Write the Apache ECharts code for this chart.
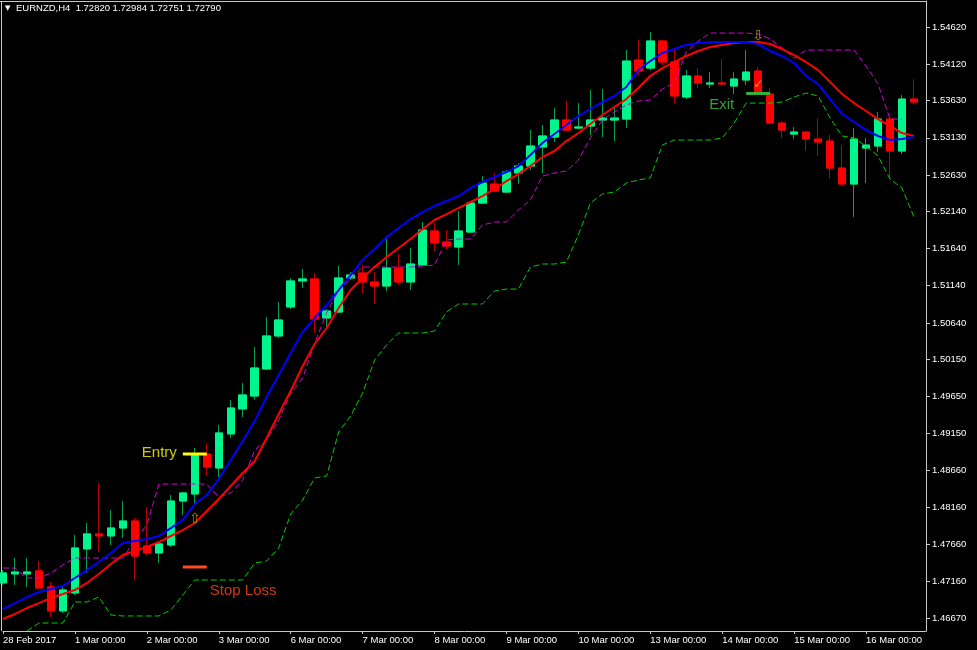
<!DOCTYPE html>
<html><head><meta charset="utf-8">
<script src="https://cdn.jsdelivr.net/npm/echarts@6/dist/echarts.min.js"></script>
<style>html,body{margin:0;padding:0;background:#000;}#c{width:977px;height:650px;}</style>
</head><body><div id="c"></div>
<script>
// ---- data ----
const days = ['28 Feb','1 Mar','2 Mar','3 Mar','6 Mar','7 Mar','8 Mar','9 Mar','10 Mar','13 Mar','14 Mar','15 Mar','16 Mar'];
const hours = ['00:00','04:00','08:00','12:00','16:00','20:00'];
const firstLabel = '28 Feb 2017';
const headerText = 'EURNZD,H4  1.72820 1.72984 1.72751 1.72790';

const opens = [
1.47142,1.47263,1.47263,1.47303,1.47088,1.46765,1.47007,1.47599,1.47801,1.47774,
1.47881,1.47975,1.47639,1.47545,1.47652,1.48244,1.48338,1.48876,1.48688,1.49146,
1.49482,1.49656,1.50020,1.50464,1.50854,1.51204,1.51231,1.50706,1.50786,1.51244,
1.51311,1.51190,1.51136,1.51378,1.51190,1.51419,1.51876,1.51728,1.51661,1.51862,
1.52252,1.52508,1.52400,1.52656,1.52750,1.53006,1.53140,1.53369,1.53261,1.53288,
1.53369,1.53369,1.53382,1.54176,1.54068,1.54432,1.54149,1.53678,1.53961,1.53853,
1.53867,1.53826,1.53907,1.54028,1.53718,1.53328,1.53180,1.53207,1.53113,1.53086,
1.52723,1.52508,1.52992,1.53019,1.53382,1.52952,1.53651];
const closes = [
1.47276,1.47289,1.47289,1.47074,1.46765,1.47047,1.47612,1.47801,1.47774,1.47881,
1.47975,1.47504,1.47545,1.47666,1.48244,1.48352,1.48876,1.48702,1.49159,1.49495,
1.49670,1.50033,1.50464,1.50679,1.51204,1.51231,1.50692,1.50800,1.51244,1.51284,
1.51190,1.51136,1.51378,1.51190,1.51432,1.51889,1.51714,1.51674,1.51876,1.52252,
1.52521,1.52414,1.52669,1.52750,1.53019,1.53154,1.53369,1.53234,1.53275,1.53369,
1.53396,1.53396,1.54162,1.54028,1.54432,1.54149,1.53692,1.53961,1.53867,1.53867,
1.53853,1.53920,1.54014,1.53732,1.53328,1.53234,1.53207,1.53113,1.53073,1.52723,
1.52508,1.53113,1.53032,1.53382,1.52952,1.53651,1.53611];
const lows = [
1.47115,1.47115,1.47088,1.47061,1.46684,1.46738,1.46980,1.47276,1.47558,1.47652,
1.47747,1.47182,1.47518,1.47410,1.47626,1.48056,1.48217,1.48580,1.48567,1.49092,
1.49374,1.49603,1.50006,1.50437,1.50827,1.51109,1.50504,1.50585,1.50773,1.51217,
1.51042,1.50894,1.51069,1.51150,1.51082,1.51405,1.51607,1.51620,1.51419,1.51849,
1.52239,1.52400,1.52387,1.52508,1.52696,1.52656,1.53073,1.53221,1.53248,1.53167,
1.53140,1.53086,1.53261,1.53974,1.54041,1.54109,1.53597,1.53651,1.53799,1.53799,
1.53840,1.53718,1.53840,1.53718,1.53315,1.53127,1.53113,1.52952,1.52885,1.52575,
1.52494,1.52064,1.52521,1.52938,1.52575,1.52911,1.53584];
const highs = [
1.47316,1.47478,1.47478,1.47437,1.47155,1.47088,1.47787,1.47948,1.48486,1.48123,
1.48244,1.48016,1.48164,1.47680,1.48325,1.48365,1.48957,1.49011,1.49266,1.49603,
1.49831,1.50315,1.50719,1.50921,1.51244,1.51365,1.51311,1.50827,1.51405,1.51324,
1.51419,1.51324,1.51768,1.51566,1.51647,1.51997,1.51984,1.51889,1.52145,1.52266,
1.52615,1.52656,1.52696,1.52790,1.53234,1.53302,1.53530,1.53624,1.53597,1.53772,
1.53786,1.53530,1.54310,1.54445,1.54553,1.54445,1.54337,1.54041,1.54068,1.54014,
1.54189,1.54014,1.54310,1.54081,1.53799,1.53355,1.53274,1.53221,1.53396,1.53167,
1.53032,1.53261,1.53127,1.53476,1.53396,1.53705,1.53920];

const maFast = [
1.46791,1.46871,1.46952,1.47019,1.47060,1.47100,1.47208,1.47315,1.47423,1.47544,
1.47679,1.47706,1.47732,1.47773,1.47880,1.47988,1.48203,1.48324,1.48540,1.48795,
1.49051,1.49320,1.49643,1.49939,1.50234,1.50517,1.50705,1.50880,1.51082,1.51284,
1.51486,1.51634,1.51795,1.51916,1.52037,1.52131,1.52212,1.52279,1.52346,1.52454,
1.52535,1.52602,1.52669,1.52750,1.52898,1.53059,1.53181,1.53302,1.53423,1.53517,
1.53611,1.53692,1.53813,1.54041,1.54162,1.54270,1.54324,1.54378,1.54405,1.54418,
1.54418,1.54418,1.54418,1.54391,1.54297,1.54230,1.54136,1.53961,1.53853,1.53651,
1.53450,1.53342,1.53234,1.53154,1.53100,1.53113,1.53140];
const maSlow = [
1.46656,1.46724,1.46804,1.46871,1.46939,1.46993,1.47046,1.47141,1.47262,1.47396,
1.47517,1.47571,1.47625,1.47692,1.47773,1.47853,1.47948,1.48109,1.48271,1.48445,
1.48620,1.48782,1.49091,1.49414,1.49723,1.50060,1.50356,1.50571,1.50840,1.51082,
1.51243,1.51391,1.51526,1.51647,1.51768,1.51903,1.52024,1.52104,1.52185,1.52266,
1.52346,1.52441,1.52548,1.52642,1.52750,1.52871,1.52952,1.53086,1.53194,1.53315,
1.53436,1.53544,1.53651,1.53799,1.53961,1.54068,1.54149,1.54230,1.54297,1.54351,
1.54378,1.54405,1.54418,1.54418,1.54391,1.54324,1.54243,1.54149,1.54041,1.53880,
1.53719,1.53597,1.53490,1.53382,1.53288,1.53194,1.53154];
const upperStop = [
1.47342,1.47342,1.47208,1.47208,1.47275,1.47383,1.47477,1.47477,1.47477,1.47477,
1.47477,1.47719,1.47921,1.48472,1.48472,1.48472,1.48472,1.48472,1.48297,1.48351,
1.48526,1.48930,1.49064,1.49333,1.49696,1.49898,1.50369,1.50773,1.51082,1.51230,
1.51391,1.51391,1.51391,1.51391,1.51391,1.51405,1.51418,1.51755,1.51768,1.51768,
1.51956,1.51997,1.51997,1.52158,1.52293,1.52615,1.52656,1.52683,1.52831,1.53127,
1.53369,1.53476,1.53571,1.53624,1.53638,1.53786,1.53867,1.54284,1.54432,1.54539,
1.54539,1.54539,1.54539,1.54526,1.54458,1.54337,1.54203,1.54310,1.54310,1.54310,
1.54310,1.54310,1.54095,1.53853,1.53382,1.53382,null];
const lowerStop = [
null,null,1.46495,1.46602,1.46602,1.46602,1.46885,1.46885,1.46952,1.46710,
1.46697,1.46697,1.46697,1.46697,1.46777,1.46979,1.47181,1.47181,1.47181,1.47181,
1.47181,1.47410,1.47436,1.47611,1.48069,1.48257,1.48553,1.48580,1.49172,1.49387,
1.49696,1.50140,1.50342,1.50504,1.50504,1.50504,1.50530,1.50786,1.50894,1.50894,
1.50894,1.51068,1.51095,1.51095,1.51391,1.51432,1.51432,1.51459,1.51822,1.52252,
1.52373,1.52400,1.52521,1.52562,1.52589,1.53032,1.53100,1.53100,1.53100,1.53100,
1.53127,1.53328,1.53597,1.53597,1.53597,1.53611,1.53678,1.53732,1.53692,1.53396,
1.53154,1.53127,1.53019,1.52885,1.52575,1.52454,1.52064];

const yTicks = [1.46670,1.47160,1.47660,1.48160,1.48660,1.49150,1.49650,1.50150,1.50640,1.51140,1.51640,1.52140,1.52630,1.53130,1.53630,1.54120,1.54620];
const yMin = 1.46495, yMax = 1.54970;

const entry = {from: 15, to: 17, price: 1.48876, labelPrice: 1.48890};
const stop = {from: 15, to: 17, price: 1.47356, labelPrice: 1.47033};
const exit = {from: 62, to: 64, price: 1.53725, labelPrice: 1.53571, labelAt: 61};
const upArrow = {at: 16, price: 1.48001};
const downArrow = {at: 63, price: 1.54499};
const checkMark = {at: 63, price: 1.53840};

// ---- build ----
const categories = [];
days.forEach(d => hours.forEach(h => categories.push(d + ' ' + h)));
const ohlc = opens.map((o, i) => [o, closes[i], lows[i], highs[i]]);
const bodies = opens.map((o, i) => [o, closes[i], Math.min(o, closes[i]), Math.max(o, closes[i])]);
function segment(s) { return categories.map((c, i) => (i >= s.from && i <= s.to) ? s.price : null); }
const showAt = (idx, val) => val.endsWith('00:00');
const FONT = 'Liberation Sans';

const chart = echarts.init(document.getElementById('c'), null, {renderer: 'canvas'});
chart.setOption({
  backgroundColor: '#000000',
  animation: false,
  grid: {left: 3, right: 51, top: 1, bottom: 19, containLabel: false},
  xAxis: {
    type: 'category', data: categories, boundaryGap: false,
    axisLine: {lineStyle: {color: '#c8c8c8', width: 1}},
    axisTick: {show: true, interval: showAt, length: 3, lineStyle: {color: '#c8c8c8'}},
    axisLabel: {interval: showAt, align: 'left', color: '#ffffff', fontFamily: FONT, fontSize: 9.5, margin: 4,
      formatter: (v, i) => i === 0 ? firstLabel : v},
    splitLine: {show: false}
  },
  yAxis: {
    type: 'value', position: 'right', min: yMin, max: yMax, scale: true,
    axisLine: {show: true, lineStyle: {color: '#c8c8c8', width: 1}},
    axisTick: {show: true, length: 4, customValues: yTicks, lineStyle: {color: '#c8c8c8'}},
    axisLabel: {customValues: yTicks, color: '#ffffff', fontFamily: FONT, fontSize: 9.5, margin: 6,
      formatter: v => v.toFixed(5)},
    splitLine: {show: false}
  },
  graphic: [
    {type: 'line', shape: {x1: 0, y1: 1.5, x2: 926, y2: 1.5}, style: {stroke: '#c8c8c8', lineWidth: 1}},
    {type: 'line', shape: {x1: 1.5, y1: 1, x2: 1.5, y2: 631}, style: {stroke: '#c8c8c8', lineWidth: 1}},
    {type: 'text', left: 5, top: 5, style: {text: '\u25BC', fill: '#ffffff', font: '7px "DejaVu Sans"'}},
    {type: 'text', left: 16, top: 3, style: {text: headerText, fill: '#ffffff', font: '9.5px "Liberation Sans"'}}
  ],
  series: [
    {type: 'candlestick', name: 'wick', data: ohlc, barWidth: 8, z: 2,
      itemStyle: {color: '#08a050', color0: '#b00000', borderColor: '#08a050', borderColor0: '#b00000', borderWidth: 1}},
    {type: 'candlestick', name: 'body', data: bodies, barWidth: 8, z: 3,
      itemStyle: {color: '#00f58c', color0: '#ff0000', borderColor: '#00f58c', borderColor0: '#ff0000', borderWidth: 1}},
    {type: 'line', name: 'upper', data: upperStop, showSymbol: false, symbol: 'none', z: 4,
      lineStyle: {color: '#d400d4', width: 1, type: [6, 3]}},
    {type: 'line', name: 'lower', data: lowerStop, showSymbol: false, symbol: 'none', z: 4,
      lineStyle: {color: '#00cc00', width: 1, type: [6, 3]}},
    {type: 'line', name: 'slow', data: maSlow, showSymbol: false, symbol: 'none', z: 5,
      lineStyle: {color: '#ff0000', width: 2}},
    {type: 'line', name: 'fast', data: maFast, showSymbol: false, symbol: 'none', z: 6,
      lineStyle: {color: '#0000ff', width: 2}},
    {type: 'line', name: 'entry', data: segment(entry), showSymbol: false, symbol: 'none', z: 7,
      lineStyle: {color: '#ffff00', width: 3}},
    {type: 'line', name: 'stop', data: segment(stop), showSymbol: false, symbol: 'none', z: 7,
      lineStyle: {color: '#ff4a1a', width: 3}},
    {type: 'line', name: 'exit', data: segment(exit), showSymbol: false, symbol: 'none', z: 7,
      lineStyle: {color: '#34b034', width: 3}},
    {type: 'scatter', name: 'labels', symbolSize: 0, z: 8,
      data: [
        {value: [entry.from, entry.labelPrice], label: {show: true, formatter: 'Entry', position: 'left', distance: 6, color: '#ffff00', fontSize: 15, fontFamily: FONT}},
        {value: [stop.to, stop.labelPrice], label: {show: true, formatter: 'Stop Loss', position: 'right', distance: 3, color: '#ff4a1a', fontSize: 15, fontFamily: FONT}},
        {value: [exit.labelAt, exit.labelPrice], label: {show: true, formatter: 'Exit', position: 'left', distance: 0, color: '#3cc83c', fontSize: 15, fontFamily: FONT}},
        {value: [upArrow.at, upArrow.price], label: {show: true, formatter: '\u21E7', position: 'inside', color: '#c8a800', fontSize: 14, fontFamily: 'DejaVu Sans'}},
        {value: [downArrow.at, downArrow.price], label: {show: true, formatter: '\u21E9', position: 'inside', color: '#d4b400', fontSize: 14, fontFamily: 'DejaVu Sans'}},
        {value: [checkMark.at, checkMark.price], label: {show: true, formatter: '\u2713', position: 'inside', color: '#ffd700', fontSize: 12, fontFamily: 'DejaVu Sans'}}
      ]}
  ]
});
</script></body></html>
